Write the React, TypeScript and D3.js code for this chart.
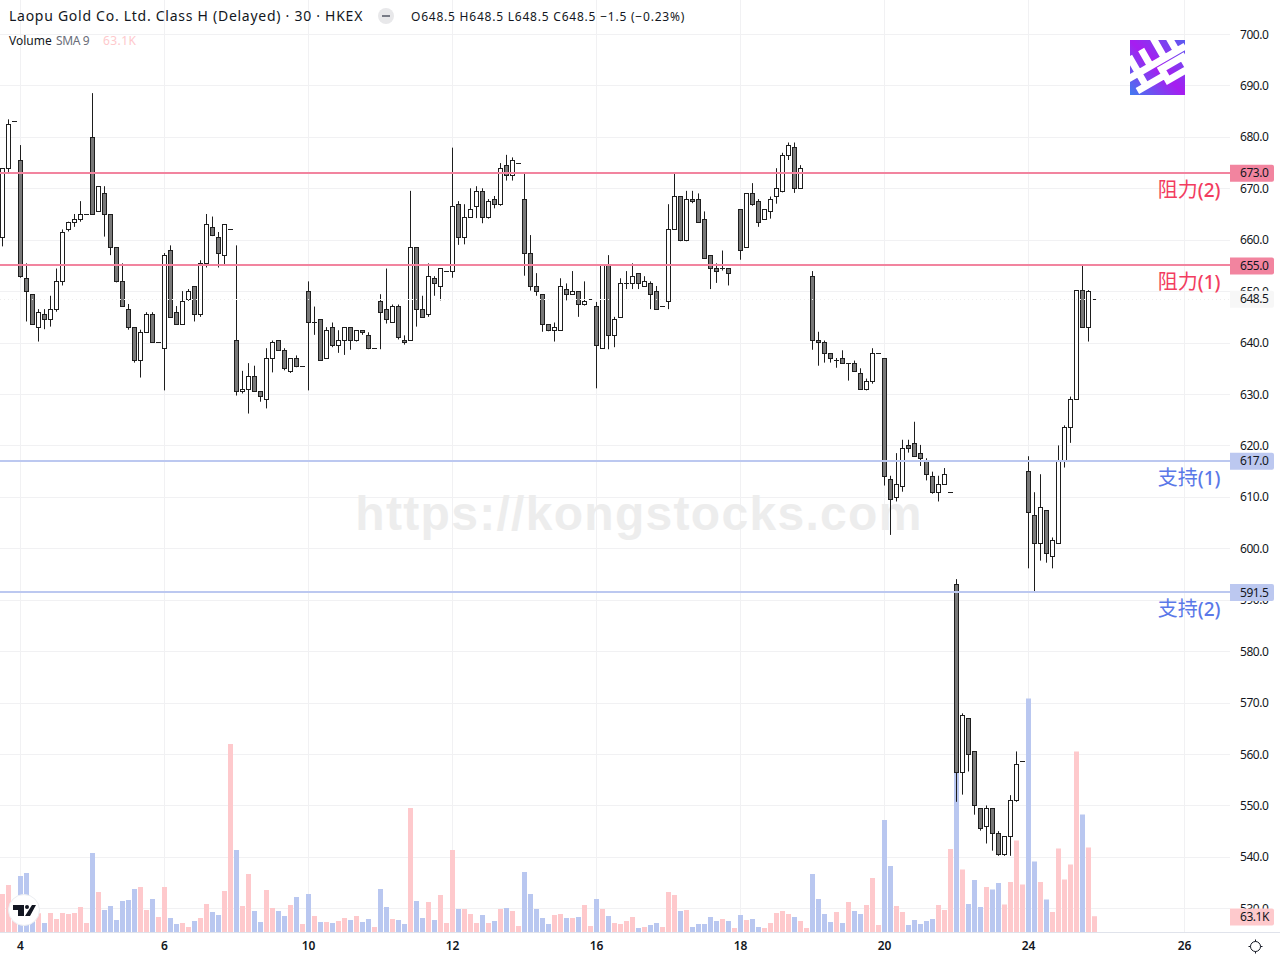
import * as d3 from 'd3';

// bar by bar
const opens = [660.6,674,683,675.5,652.6,649.5,643.1,645.5,644.6,646.6,652,662,663.5,664,665,680,665.6,669.1,665,658.6,652,646.6,643.1,636.7,642.1,645.6,640.2,639,658,646,643.7,648.4,651,645.6,655.5,662.5,660.6,657.1,662.1,640.5,630.6,631,633.5,630.6,629.1,637,640.5,638.6,634.5,637,635.5,650.1,644,644.6,637,643.1,639.6,640.5,643.1,640.5,642.5,641.5,639,648.1,646.6,644,647.1,640.5,640.5,658.6,646.6,645.6,652.6,651,653.9,653.9,667,660.6,664.4,666.6,669.5,664.4,668,667,674.6,672.6,675,668,657.5,651,649.5,643.7,642.5,642.5,650.4,649.5,650,647.5,648.5,647.1,639,655.1,641.5,645,651.6,651.6,653.6,651,651.6,650,647.1,648.1,662.1,668.5,660,668,668,664,657,654.5,654.5,654.5,655.1,666,658.6,669.1,667.6,664,665.6,668.5,669.5,676.5,678,670.1,673,653,640.5,640.2,638,636.6,637,636,636,634.1,631,632.6,638,637,613.5,610,612.2,620.1,620.5,618.6,617,614.1,611,612.5,611,593.1,556.5,567,560.6,549.5,546,549.5,544.7,540.6,544.1,551.1,558.7,615.1,606.5,601,607.5,598.5,601,617,623.6,629.1,650.3,643,648.5];
const highs = [674,683.5,683,678.5,655.5,649.5,646.6,646.6,649.2,654.5,662.1,663.6,665.1,667.6,665,688.6,670.5,670.5,665,658.6,655.5,647.6,643.1,642.6,646,646,640.2,657.5,659,647.2,650.1,650.5,651,656.1,665.1,664.6,661.6,663.1,662.1,659,634.6,636.1,635.6,630.6,639,640.5,640.5,639,637,637.6,635.5,652,647.1,644.6,643.1,644,642.5,643.1,643.1,642.5,642.5,642.1,639,649.5,654.5,647.5,647.5,641.5,669.6,658.6,649.2,655.5,653,654.5,653.9,678,667.6,667,670.1,670.5,670.1,668,668.6,675,676.6,676.1,675,673,661,653.6,649.5,643.7,644,652.6,651.6,654,650,652,648.5,648,655.1,657.1,645.1,652.6,654,655.5,653.6,653,652,651.1,647.1,667,673,668.5,669.6,669.6,669.1,665.6,657,655.5,658,654.5,655.1,666,669.1,671.1,668,666,668.5,674,677,679,679,674.6,673,654,642.2,640.5,638,637.1,638.6,636,636.6,635.1,633.1,639,638,637,614.2,618.6,621.2,621.2,624.7,620.2,617.6,615,614.2,615.7,611,594.1,568,567,560.6,549.5,550.1,549.5,545.1,544.1,552.1,560.6,558.7,618,611,614.5,607.5,602.2,620.1,624,629.6,650.3,655,650.3,648.5];
const lows = [658.8,672.9,683,652.7,644.2,643.7,640.3,642.7,643.2,646.1,651.2,661.7,662.6,663.6,665,665,665.6,660.7,657.1,651.8,647.2,642.6,636.2,633.3,642.1,640.2,640.2,630.8,645,643.7,643.7,648.2,644.2,645.1,654.7,660.8,654.7,655.2,662.1,629.8,630.2,626.3,630.6,628.6,627.3,634.3,638.6,634.7,634.2,635.3,635.5,630.8,641.6,636.6,637,639.2,638.1,637.7,638.7,640.3,641.6,638.8,639,638.8,643.8,644,640.7,639.7,640.5,643.2,645,645.1,649.2,648.3,653.9,652.7,659.1,659.2,664.4,664.3,663.3,664.2,666.2,666.7,671.6,671.6,675,653.1,650.2,649.2,642.2,642.3,640.3,642.5,648.3,649.5,645.1,647.3,648.5,631.2,639,638.8,639.2,645,650.5,650.5,650.5,651,646.6,646.6,647.1,646.6,662.1,659.8,659.8,667.2,663.5,656.5,650.5,651.7,654.1,651.2,655.1,656.2,658.6,666.7,662.6,664,664.2,667.1,669.3,675.6,669.2,670.1,673,638.7,635.6,636.2,636.2,635.2,636,632.7,634.5,631,630.8,632.1,638,612.3,602.7,609.2,611.1,618.7,618,616.1,613.3,610.7,609.2,612.5,611,550.8,552.2,556.7,548.3,545.2,542.7,541.3,540.3,540.3,540.3,550.8,558.7,596.2,591.7,597.7,597.3,596.2,601,615.8,620.6,629.1,643,640.3,648.5];
const closes = [674,682.5,683,652.9,650.1,643.7,646,644.6,646.6,652,661.5,663.4,664,665,665,665,670.5,665,658.6,652,647.2,643.1,636.7,642.1,645.6,640.2,640.2,657.1,645,643.7,648.1,650.1,645.6,655.5,663.1,661,657.5,663.1,662.1,630.6,631,633.5,630.6,629.7,637,640.2,638.6,635.1,637,635.5,635.5,644,644,636.6,642.5,639.6,640.5,643.1,640.5,642.5,642.1,639,639,646,644.6,647.1,641.1,640.2,658.6,646.6,645,653,651.6,654.5,653.9,666.6,660.6,664.4,666,669.5,664.4,667.6,667,674,672.6,675.5,675,657.5,651,650,643.7,642.5,643.1,651,649.5,650,647.5,648.1,648.5,639.6,655.1,641.5,644.6,651.6,651.6,653,651.6,652,649.5,646.6,647.1,662.1,668.5,660,668,667.6,663.5,656.5,654.5,653.9,654.5,653.6,655.1,658,669.1,667,663.5,666,668,670.1,676.5,678.5,670.1,674,673,640.5,640.2,638,637,636.6,636,636,634.5,631,632.6,638,638,614.1,609.6,612.5,619.5,619.5,618,617.6,614.5,611,612.5,614.5,611,556.5,567.6,560,550.1,545.7,549.5,544.7,540.6,544.1,551.1,558.1,558.7,607.1,601,608.1,599.1,601.6,617,623.6,629.1,650.3,643,650,648.5];
// volume in K
const volumes = [152,188,80,224,236,70,75,36,76,52,76,72,76,100,36,316,160,88,104,48,124,128,172,180,88,132,60,180,56,32,36,20,44,56,112,80,68,164,752,328,104,232,84,40,168,96,84,64,108,140,32,152,64,40,40,36,44,56,48,64,40,52,20,172,100,52,48,32,496,124,56,120,48,148,36,328,92,92,72,36,68,36,44,92,96,84,24,240,152,92,56,32,68,72,56,56,60,108,24,132,92,64,36,32,44,60,16,20,28,36,20,160,148,84,88,20,32,32,60,44,52,44,16,68,48,52,20,16,36,76,84,72,60,44,16,232,132,72,40,80,36,120,84,72,108,216,28,448,264,104,80,28,48,32,44,52,108,88,332,640,250,112,208,100,180,170,196,110,200,366,190,934,282,200,130,80,334,210,270,722,470,338,63.1];

const priceTicks = [700,690,680,670,660,650,640,630,620,610,600,590,580,570,560,550,540,530];
const dateLabels = ['4','6','10','12','16','18','20','24','26'];
const dateBars = [3,27,51,75,99,123,147,171,197];

const resistance = [{ price: 655, name: '阻力', num: '(1)', tagY: 282 }, { price: 673, name: '阻力', num: '(2)', tagY: 190 }];
const support = [{ price: 617, name: '支持', num: '(1)', tagY: 478 }, { price: 591.5, name: '支持', num: '(2)', tagY: 609 }];

const UI_FONT = '"Noto Sans", sans-serif';
const CJK_FONT = '"Noto Sans CJK SC", sans-serif';
const BORDER = '#1e1e1e';
const DOWN_FILL = '#787878';
const PINK_LINE = '#f2849f';
const BLUE_LINE = '#bcc8f0';
const PINK_VOL = '#fec9cc';
const BLUE_VOL = '#b9c7f0';
const PLOT_RIGHT = 1230;
const PLOT_BOTTOM = 932;
const TICK_SPACING = -0.45;

const x = d3.scaleLinear().domain([0, 182]).range([2.5, 1094.5]);
const y = d3.scaleLinear().domain([700, 530]).range([34.5, 908.8]);
const volH = d3.scaleLinear().domain([0, 1000]).range([0, 250]);
const snap = (v: number) => Math.round(v - 0.5) + 0.5;
const levelY = (p: number) => Math.round(y(p) - 0.5);

function Tag({ py, text, fill }: { py: number; text: string; fill: string }) {
  return (
    <g>
      <path d={`M${PLOT_RIGHT} ${py - 8.5}h42a2 2 0 0 1 2 2v13a2 2 0 0 1 -2 2h-42z`} fill={fill} />
      <text x={1240} y={py + 4} fontSize={12} letterSpacing={TICK_SPACING} fill="#131722">{text}</text>
    </g>
  );
}

function LevelLabel({ py, name, num, fill }: { py: number; name: string; num: string; fill: string }) {
  return (
    <text x={1220.5} y={py + 7} textAnchor="end" fontSize={20} fontFamily={CJK_FONT} fill={fill}>
      {name}<tspan fontFamily={UI_FONT} fontWeight={500} fontSize={19}>{num}</tspan>
    </text>
  );
}

export default function App() {
  const lastY = snap(y(648.5));
  return (
    <svg width={1280} height={960} style={{ position: 'absolute', left: 0, top: 0, fontFamily: UI_FONT }}>
      <defs>
        <linearGradient id="logoFill" x1="0" y1="1" x2="1" y2="0">
          <stop offset="0" stopColor="#3f7cf0" />
          <stop offset="0.5" stopColor="#a71df0" />
          <stop offset="1" stopColor="#5a5cf0" />
        </linearGradient>
        <clipPath id="logoClip"><rect x={1130} y={40} width={55} height={55} /></clipPath>
      </defs>
      <rect width={1280} height={960} fill="#fff" />

      {/* grid */}
      {priceTicks.map(p => (
        <line key={p} x1={0} x2={PLOT_RIGHT} y1={snap(y(p))} y2={snap(y(p))} stroke="#f1f1f3" />
      ))}
      {dateBars.map(b => (
        <line key={b} x1={x(b)} x2={x(b)} y1={0} y2={PLOT_BOTTOM} stroke="#f1f1f3" />
      ))}

      <text x={639} y={530} textAnchor="middle" fontFamily='"Liberation Sans", sans-serif' fontWeight="bold"
        fontSize={48} letterSpacing={1.3} fill="#ededed">https://kongstocks.com</text>

      {/* logo */}
      <g clipPath="url(#logoClip)">
        <rect x={1130} y={40} width={55} height={55} fill="url(#logoFill)" />
        <g stroke="#fff" strokeWidth={7} fill="none" transform="rotate(-30 1157 67)">
          <path d="M1122 63h70M1128 78h32M1138 44v36M1152 44v20M1168 38v26M1182 38v26M1160 71h24v13h-24z" />
        </g>
      </g>

      {/* volume */}
      {volumes.map((v, i) => (
        <rect key={i} x={x(i) - 2.5} width={5} y={PLOT_BOTTOM - volH(v)} height={volH(v)}
          fill={closes[i] >= opens[i] ? PINK_VOL : BLUE_VOL} />
      ))}

      {/* candles */}
      {opens.map((o, i) => {
        const c = closes[i];
        const top = snap(y(Math.max(o, c)));
        const bottom = snap(y(Math.min(o, c)));
        const cx = x(i);
        return (
          <g key={i}>
            <line x1={cx} x2={cx} y1={y(highs[i])} y2={y(lows[i])} stroke={BORDER} />
            {bottom - top < 1
              ? <line x1={cx - 2.5} x2={cx + 2.5} y1={top} y2={top} stroke={BORDER} />
              : <rect x={cx - 2} width={4} y={top} height={bottom - top} stroke={BORDER}
                  fill={c >= o ? '#fff' : DOWN_FILL} />}
          </g>
        );
      })}

      {/* last price */}
      <line x1={0} x2={PLOT_RIGHT} y1={lastY} y2={lastY} stroke="#eeeeee" strokeDasharray="1 3" />

      {/* levels */}
      {resistance.map(r => (
        <line key={r.price} x1={0} x2={PLOT_RIGHT} y1={levelY(r.price)} y2={levelY(r.price)} stroke={PINK_LINE} strokeWidth={2} />
      ))}
      {support.map(s => (
        <line key={s.price} x1={0} x2={PLOT_RIGHT} y1={levelY(s.price)} y2={levelY(s.price)} stroke={BLUE_LINE} strokeWidth={2} />
      ))}
      {resistance.map(r => <LevelLabel key={r.price} py={r.tagY} name={r.name} num={r.num} fill="#f23c60" />)}
      {support.map(s => <LevelLabel key={s.price} py={s.tagY} name={s.name} num={s.num} fill="#5a78e8" />)}

      {/* price scale */}
      {priceTicks.map(p => (
        <text key={p} x={1240} y={y(p) + 4} fontSize={12} letterSpacing={TICK_SPACING} fill="#131722">{d3.format('.1f')(p)}</text>
      ))}
      {resistance.map(r => <Tag key={r.price} py={y(r.price)} text={d3.format('.1f')(r.price)} fill={PINK_LINE} />)}
      {support.map(s => <Tag key={s.price} py={y(s.price)} text={d3.format('.1f')(s.price)} fill={BLUE_LINE} />)}
      <Tag py={y(648.5)} text="648.5" fill="#f7f7f7" />
      <Tag py={917} text="63.1K" fill={PINK_VOL} />

      {/* time scale */}
      <line x1={0} x2={1280} y1={PLOT_BOTTOM + 0.5} y2={PLOT_BOTTOM + 0.5} stroke="#e0e3eb" />
      {dateLabels.map((d, k) => (
        <text key={d} x={x(dateBars[k])} y={950} textAnchor="middle" fontSize={12} fontWeight={600} fill="#131722">{d}</text>
      ))}
      <g transform="translate(1255.5 946.5)" stroke="#131722" fill="none">
        <circle r={5} />
        <path d="M0 -7v2M0 5v2M-7 0h2M5 0h2" />
      </g>

      {/* tradingview badge */}
      <circle cx={24} cy={910} r={15.5} fill="#fff" stroke="#eceef2" />
      <path d="M13 905h11v11h-6v-6h-5zM32 905h4l-6 11h-5z" fill="#131722" />
      <circle cx={27} cy={907} r={2} fill="#131722" />

      {/* header */}
      <text x={9} y={21} fontSize={14} letterSpacing={0.73} fill="#131722">Laopu Gold Co. Ltd. Class H (Delayed) · 30 · HKEX</text>
      <circle cx={386} cy={16} r={8} fill="#e8e8ea" />
      <rect x={382} y={15} width={8} height={2} fill="#787b86" />
      <text x={411} y={21} fontSize={12} letterSpacing={0.78} fill="#131722">O648.5 H648.5 L648.5 C648.5 −1.5 (−0.23%)</text>
      <text x={9} y={45} fontSize={12} fill="#131722">Volume</text>
      <text x={56} y={45} fontSize={12} letterSpacing={-0.4} fill="#6a6d78">SMA 9</text>
      <text x={103} y={45} fontSize={12} letterSpacing={0.4} fill={PINK_VOL}>63.1K</text>
    </svg>
  );
}
